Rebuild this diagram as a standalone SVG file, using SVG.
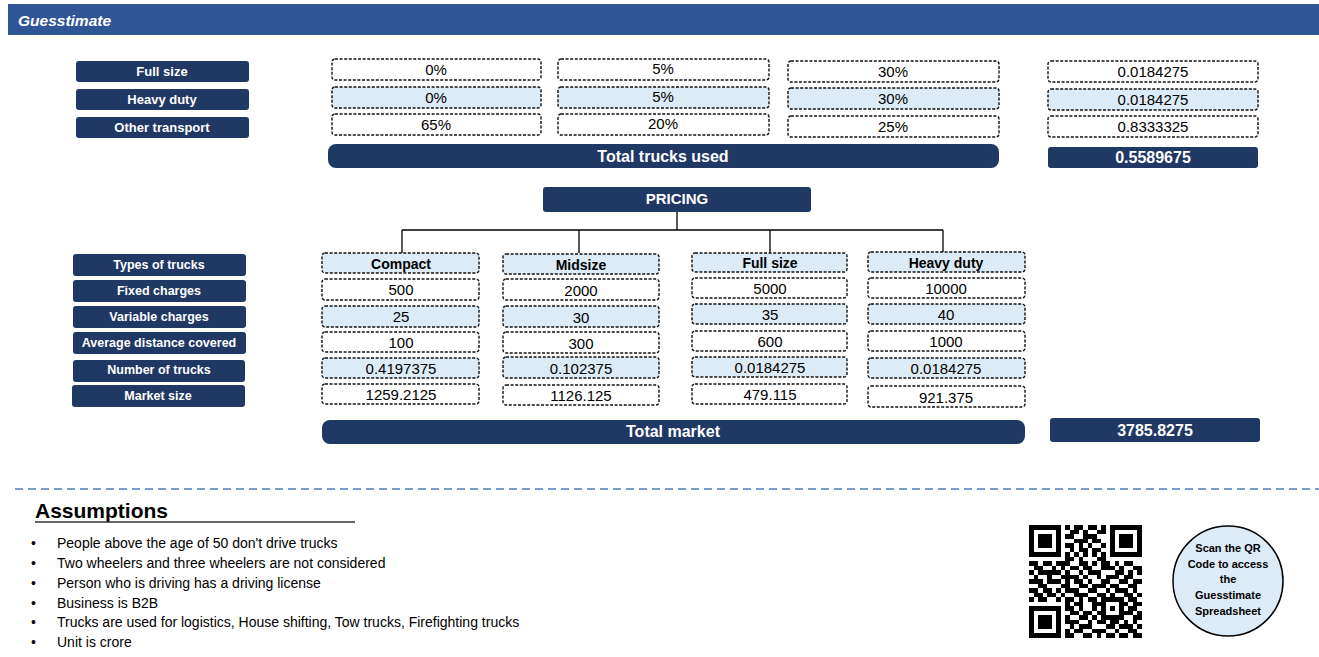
<svg xmlns="http://www.w3.org/2000/svg" width="1319" height="657" viewBox="0 0 1319 657">
<style>
.nav{fill:#203864}
.dw{fill:#fff;stroke:#111;stroke-width:1.4;stroke-dasharray:3 1.6}
.db{fill:#DDEBF7;stroke:#111;stroke-width:1.4;stroke-dasharray:3 1.6}
text{font-family:"Liberation Sans",Arial,sans-serif;text-anchor:middle}
.lb{fill:#fff;font-weight:bold;font-size:13px}
.lb2{fill:#fff;font-weight:bold;font-size:12.5px}
.v{fill:#000;font-size:15px}
.h{fill:#000;font-weight:bold;font-size:14px}
.big{fill:#fff;font-weight:bold;font-size:16px}
.bul{fill:#000;font-size:14px;text-anchor:start}
.cir{fill:#000;font-weight:bold;font-size:11px}
.con{stroke:#000;stroke-width:1.3;fill:none}
</style>
<rect x="8" y="4" width="1311" height="31" fill="#2F5597"/>
<text x="18" y="26" style="fill:#fff;font-weight:bold;font-style:italic;font-size:15.5px;text-anchor:start">Guesstimate</text>

<g id="top-labels">
<rect class="nav" x="76" y="61" width="173" height="21" rx="3"/><text class="lb" x="162" y="76">Full size</text>
<rect class="nav" x="76" y="89" width="173" height="21" rx="3"/><text class="lb" x="162" y="104">Heavy duty</text>
<rect class="nav" x="76" y="117" width="173" height="21" rx="3"/><text class="lb" x="162" y="132">Other transport</text>
</g>

<g id="top-grid">
<rect class="dw" x="332" y="59" width="209" height="21" rx="3"/><text class="v" x="436" y="75">0%</text>
<rect class="db" x="332" y="87" width="209" height="21" rx="3"/><text class="v" x="436" y="103">0%</text>
<rect class="dw" x="332" y="114" width="209" height="21" rx="3"/><text class="v" x="436" y="130">65%</text>
<rect class="dw" x="558" y="59" width="211" height="21" rx="3"/><text class="v" x="663" y="74">5%</text>
<rect class="db" x="558" y="87" width="211" height="21" rx="3"/><text class="v" x="663" y="102">5%</text>
<rect class="dw" x="558" y="114" width="211" height="21" rx="3"/><text class="v" x="663" y="129">20%</text>
<rect class="dw" x="788" y="61" width="211" height="21" rx="3"/><text class="v" x="893" y="77">30%</text>
<rect class="db" x="788" y="88" width="211" height="21" rx="3"/><text class="v" x="893" y="104">30%</text>
<rect class="dw" x="788" y="116" width="211" height="21" rx="3"/><text class="v" x="893" y="132">25%</text>
<rect class="dw" x="1048" y="61" width="210" height="21" rx="3"/><text class="v" x="1153" y="77">0.0184275</text>
<rect class="db" x="1048" y="89" width="210" height="21" rx="3"/><text class="v" x="1153" y="105">0.0184275</text>
<rect class="dw" x="1048" y="116" width="210" height="21" rx="3"/><text class="v" x="1153" y="132">0.8333325</text>
</g>

<g id="total-trucks">
<rect class="nav" x="328" y="144" width="671" height="24" rx="8"/><text class="big" x="663" y="162">Total trucks used</text>
<rect class="nav" x="1048" y="147" width="210" height="21" rx="3"/><text class="big" x="1153" y="163">0.5589675</text>
</g>

<g id="pricing">
<rect class="nav" x="543" y="187" width="268" height="25" rx="3"/><text class="big" x="677" y="204" style="font-size:15px">PRICING</text>
</g>

<g id="connectors">
<path class="con" d="M677 212V230M402 230H943M402 230V253M579 230V253M770 230V253M943 230V252"/>
</g>

<g id="row-labels">
<rect class="nav" x="73" y="254" width="173" height="22" rx="3"/><text class="lb2" x="159" y="269">Types of trucks</text>
<rect class="nav" x="73" y="280" width="173" height="22" rx="3"/><text class="lb2" x="159" y="295">Fixed charges</text>
<rect class="nav" x="73" y="306" width="173" height="22" rx="3"/><text class="lb2" x="159" y="321">Variable charges</text>
<rect class="nav" x="73" y="332" width="173" height="22" rx="3"/><text class="lb2" x="159" y="347">Average distance covered</text>
<rect class="nav" x="73" y="360" width="172" height="22" rx="3"/><text class="lb2" x="159" y="374">Number of trucks</text>
<rect class="nav" x="72" y="385" width="173" height="22" rx="3"/><text class="lb2" x="158" y="400">Market size</text>
</g>

<g id="col-compact">
<rect class="db" x="322" y="253" width="157" height="20" rx="3"/><text class="h" x="401" y="269">Compact</text>
<rect class="dw" x="322" y="279" width="157" height="21" rx="3"/><text class="v" x="401" y="295">500</text>
<rect class="db" x="322" y="306" width="157" height="21" rx="3"/><text class="v" x="401" y="322">25</text>
<rect class="dw" x="322" y="332" width="157" height="20" rx="3"/><text class="v" x="401" y="348">100</text>
<rect class="db" x="322" y="358" width="157" height="20" rx="3"/><text class="v" x="401" y="374">0.4197375</text>
<rect class="dw" x="322" y="384" width="157" height="20" rx="3"/><text class="v" x="401" y="400">1259.2125</text>
</g>

<g id="col-midsize">
<rect class="db" x="503" y="254" width="156" height="20" rx="3"/><text class="h" x="581" y="270">Midsize</text>
<rect class="dw" x="503" y="279" width="156" height="21" rx="3"/><text class="v" x="581" y="296">2000</text>
<rect class="db" x="503" y="306" width="156" height="21" rx="3"/><text class="v" x="581" y="323">30</text>
<rect class="dw" x="503" y="332" width="156" height="21" rx="3"/><text class="v" x="581" y="349">300</text>
<rect class="db" x="503" y="357" width="156" height="21" rx="3"/><text class="v" x="581" y="374">0.102375</text>
<rect class="dw" x="503" y="385" width="156" height="20" rx="3"/><text class="v" x="581" y="401">1126.125</text>
</g>

<g id="col-fullsize">
<rect class="db" x="692" y="253" width="155" height="19" rx="3"/><text class="h" x="770" y="268">Full size</text>
<rect class="dw" x="692" y="278" width="155" height="20" rx="3"/><text class="v" x="770" y="294">5000</text>
<rect class="db" x="692" y="304" width="155" height="20" rx="3"/><text class="v" x="770" y="320">35</text>
<rect class="dw" x="692" y="331" width="155" height="20" rx="3"/><text class="v" x="770" y="347">600</text>
<rect class="db" x="692" y="357" width="155" height="20" rx="3"/><text class="v" x="770" y="373">0.0184275</text>
<rect class="dw" x="692" y="384" width="155" height="20" rx="3"/><text class="v" x="770" y="400">479.115</text>
</g>

<g id="col-heavyduty">
<rect class="db" x="868" y="252" width="157" height="20" rx="3"/><text class="h" x="946" y="268">Heavy duty</text>
<rect class="dw" x="868" y="278" width="157" height="20" rx="3"/><text class="v" x="946" y="294">10000</text>
<rect class="db" x="868" y="304" width="157" height="20" rx="3"/><text class="v" x="946" y="320">40</text>
<rect class="dw" x="868" y="331" width="157" height="20" rx="3"/><text class="v" x="946" y="347">1000</text>
<rect class="db" x="868" y="358" width="157" height="20" rx="3"/><text class="v" x="946" y="374">0.0184275</text>
<rect class="dw" x="868" y="386" width="157" height="21" rx="3"/><text class="v" x="946" y="403">921.375</text>
</g>

<g id="total-market">
<rect class="nav" x="322" y="420" width="703" height="24" rx="8"/><text class="big" x="673" y="437">Total market</text>
<rect class="nav" x="1050" y="418" width="210" height="24" rx="3"/><text class="big" x="1155" y="436">3785.8275</text>
</g>

<line x1="15" y1="489" x2="1319" y2="489" stroke="#4A7EBB" stroke-width="1.3" stroke-dasharray="8 5"/>

<g id="assumptions">
<text x="35" y="518" style="fill:#000;font-weight:bold;font-size:21px;text-anchor:start">Assumptions</text>
<line x1="35" y1="522" x2="355" y2="522" stroke="#333" stroke-width="1.5"/>
<text class="bul" x="31" y="548">•</text><text class="bul" x="57" y="548">People above the age of 50 don't drive trucks</text>
<text class="bul" x="31" y="568">•</text><text class="bul" x="57" y="568">Two wheelers and three wheelers are not considered</text>
<text class="bul" x="31" y="588">•</text><text class="bul" x="57" y="588">Person who is driving has a driving license</text>
<text class="bul" x="31" y="608">•</text><text class="bul" x="57" y="608">Business is B2B</text>
<text class="bul" x="31" y="627">•</text><text class="bul" x="57" y="627">Trucks are used for logistics, House shifting, Tow trucks, Firefighting trucks</text>
<text class="bul" x="31" y="647">•</text><text class="bul" x="57" y="647">Unit is crore</text>
</g>

<g id="qr" transform="translate(1029,525) scale(4.52)" shape-rendering="crispEdges" fill="#000">
<path fill-rule="evenodd" d="M0 0h7v7h-7zM1 1h5v5h-5zM2 2h3v3h-3zM18 0h7v7h-7zM19 1h5v5h-5zM20 2h3v3h-3zM0 18h7v7h-7zM1 19h5v5h-5zM2 20h3v3h-3z"/>
<path d="M8 0h1v1h-1zM10 0h2v1h-2zM13 0h2v1h-2zM16 0h1v1h-1z
M9 1h2v1h-2zM12 1h1v1h-1zM15 1h2v1h-2z
M8 2h2v1h-2zM12 2h3v1h-3z
M10 3h3v1h-3zM14 3h2v1h-2z
M8 4h2v1h-2zM11 4h1v1h-1zM13 4h1v1h-1zM16 4h1v1h-1z
M9 5h1v1h-1zM11 5h2v1h-2zM14 5h2v1h-2z
M8 6h1v1h-1zM10 6h1v1h-1zM12 6h1v1h-1zM14 6h1v1h-1zM16 6h1v1h-1z
M8 7h2v1h-2zM11 7h1v1h-1zM15 7h2v1h-2z
M0 8h2v1h-2zM3 8h2v1h-2zM6 8h3v1h-3zM11 8h2v1h-2zM14 8h1v1h-1zM16 8h2v1h-2zM19 8h1v1h-1zM21 8h2v1h-2z
M1 9h2v1h-2zM5 9h1v1h-1zM7 9h1v1h-1zM9 9h2v1h-2zM12 9h2v1h-2zM16 9h3v1h-3zM20 9h1v1h-1zM23 9h2v1h-2z
M0 10h1v1h-1zM2 10h5v1h-5zM8 10h1v1h-1zM11 10h1v1h-1zM13 10h3v1h-3zM19 10h2v1h-2zM22 10h1v1h-1zM24 10h1v1h-1z
M1 11h1v1h-1zM4 11h1v1h-1zM7 11h4v1h-4zM12 11h1v1h-1zM15 11h1v1h-1zM17 11h3v1h-3zM21 11h2v1h-2z
M0 12h3v1h-3zM4 12h3v1h-3zM8 12h1v1h-1zM10 12h2v1h-2zM13 12h1v1h-1zM16 12h2v1h-2zM20 12h2v1h-2zM23 12h2v1h-2z
M2 13h2v1h-2zM7 13h2v1h-2zM11 13h2v1h-2zM14 13h3v1h-3zM18 13h2v1h-2zM22 13h2v1h-2z
M0 14h2v1h-2zM3 14h2v1h-2zM6 14h1v1h-1zM8 14h3v1h-3zM13 14h2v1h-2zM17 14h1v1h-1zM19 14h3v1h-3zM23 14h1v1h-1z
M1 15h2v1h-2zM4 15h2v1h-2zM7 15h1v1h-1zM10 15h3v1h-3zM15 15h2v1h-2zM18 15h1v1h-1zM21 15h2v1h-2zM24 15h1v1h-1z
M0 16h1v1h-1zM2 16h2v1h-2zM6 16h1v1h-1zM8 16h2v1h-2zM11 16h1v1h-1zM13 16h2v1h-2zM16 16h5v1h-5zM22 16h2v1h-2z
M8 17h1v1h-1zM10 17h2v1h-2zM14 17h3v1h-3zM20 17h2v1h-2zM23 17h2v1h-2z
M8 18h2v1h-2zM11 18h1v1h-1zM14 18h1v1h-1zM16 18h1v1h-1zM18 18h1v1h-1zM20 18h1v1h-1zM22 18h2v1h-2z
M9 19h2v1h-2zM12 19h2v1h-2zM15 19h2v1h-2zM20 19h3v1h-3zM24 19h1v1h-1z
M8 20h1v1h-1zM11 20h2v1h-2zM14 20h1v1h-1zM16 20h5v1h-5zM23 20h2v1h-2z
M8 21h3v1h-3zM13 21h1v1h-1zM15 21h2v1h-2zM18 21h2v1h-2zM21 21h1v1h-1zM23 21h1v1h-1z
M9 22h1v1h-1zM11 22h3v1h-3zM17 22h2v1h-2zM20 22h3v1h-3zM24 22h1v1h-1z
M8 23h1v1h-1zM10 23h2v1h-2zM14 23h3v1h-3zM19 23h1v1h-1zM22 23h2v1h-2z
M8 24h2v1h-2zM12 24h2v1h-2zM15 24h1v1h-1zM17 24h2v1h-2zM20 24h2v1h-2zM23 24h2v1h-2z"/>
</g>

<g id="qr-note">
<circle cx="1228" cy="581" r="55" fill="#DDEBF7" stroke="#000" stroke-width="1.5"/>
<text class="cir" x="1228" y="552">Scan the QR</text>
<text class="cir" x="1228" y="568">Code to access</text>
<text class="cir" x="1228" y="583">the</text>
<text class="cir" x="1228" y="599">Guesstimate</text>
<text class="cir" x="1228" y="615">Spreadsheet</text>
</g>
</svg>
